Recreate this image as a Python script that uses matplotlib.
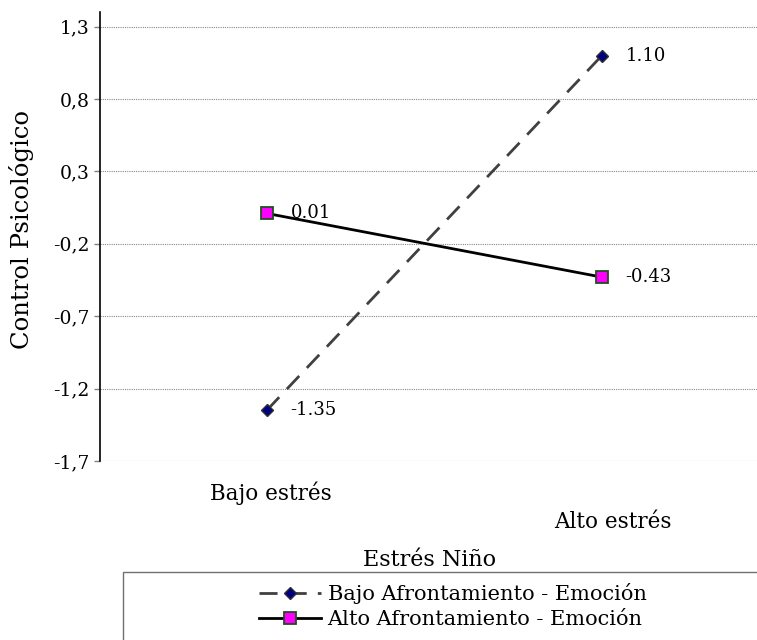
import matplotlib.pyplot as plt
from matplotlib.patches import Rectangle
from matplotlib.ticker import FuncFormatter

categories = ['Bajo estrés', 'Alto estrés']
bajo_afront = [-1.35, 1.10]
alto_afront = [0.01, -0.43]
yticks = [-1.7, -1.2, -0.7, -0.2, 0.3, 0.8, 1.3]

plt.rcParams['font.family'] = 'DejaVu Serif'

fig = plt.figure(figsize=(7.57, 6.40), dpi=100)
ax = fig.add_axes([0.132, 0.2797, 0.868, 0.7013])

x = [0, 1]
ax.plot(x, bajo_afront, color='#404040', linestyle=(0, (6.5, 4)), linewidth=2,
        marker='D', markersize=6, markerfacecolor='#000080', markeredgecolor='#303030',
        label='Bajo Afrontamiento - Emoción', zorder=3)
ax.plot(x, alto_afront, color='black', linewidth=2,
        marker='s', markersize=8, markerfacecolor='#ff00ff', markeredgecolor='#1f4f1f',
        markeredgewidth=1.3, label='Alto Afrontamiento - Emoción', zorder=3)

for series in (bajo_afront, alto_afront):
    for xi, v in zip(x, series):
        ax.annotate(f'{v:.2f}', (xi, v), xytext=(17, 0), textcoords='offset points',
                    va='center', ha='left', fontsize=13)

ax.set_xlim(-0.498, 1.463)
ax.set_ylim(-1.7, 1.4)
ax.set_yticks(yticks)
ax.yaxis.set_major_formatter(FuncFormatter(lambda v, p: f'{v:.1f}'.replace('.', ',')))
ax.grid(axis='y', color='#888888', linestyle=(0, (1, 1)), linewidth=0.8)
ax.set_axisbelow(True)

ax.set_xticks(x)
ax.set_xticklabels([])
ax.tick_params(axis='y', length=4, labelsize=13.5, width=1, color='#808080')
ax.tick_params(axis='x', length=0)
for sp in ['top', 'right', 'bottom']:
    ax.spines[sp].set_visible(False)
ax.spines['left'].set_linewidth(1.2)

fig.text(271 / 757, 1 - 493 / 640, categories[0], ha='center', va='center', fontsize=15.5)
fig.text(613 / 757, 1 - 522 / 640, categories[1], ha='center', va='center', fontsize=15.5)
fig.text(430 / 757, 1 - 560 / 640, 'Estrés Niño', ha='center', va='center', fontsize=16)
ax.set_ylabel('Control Psicológico', fontsize=17.5)
ax.yaxis.set_label_coords(-0.100, 0.515)

fig.patches.append(Rectangle((123 / 757, -0.01), 0.9, 1 - 572 / 640 + 0.01,
                             transform=fig.transFigure, fill=False,
                             edgecolor='#707070', linewidth=1))
fig.legend(loc='center left', bbox_to_anchor=(240 / 757, 1 - 606 / 640),
           frameon=False, fontsize=15, handlelength=3.0, handletextpad=0.3,
           labelspacing=0.3)

fig.savefig('out.png', dpi=100)
